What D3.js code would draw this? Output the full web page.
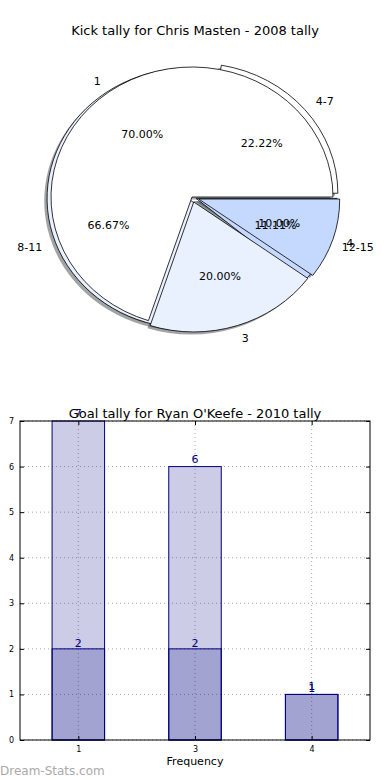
<!DOCTYPE html>
<html>
<head>
<meta charset="utf-8">
<script src="https://cdn.jsdelivr.net/npm/d3@7"></script>
<style>
  body { margin: 0; background: #fff; }
  svg { display: block; font-family: "DejaVu Sans", sans-serif; }
</style>
</head>
<body>
<div id="chart"></div>
<script>
// Kick tally pie: two pies drawn on top of each other
const kickLabelsA = ['1', '3', '4'];
const kickValuesA = [7, 2, 1];
const kickLabelsB = ['4-7', '8-11', '12-15'];
const kickValuesB = [2, 6, 1];

// Goal tally bars: two overlaid series
const goalCategories = ['1', '3', '4'];
const goalSeriesA = [7, 6, 1];
const goalSeriesB = [2, 2, 1];
const goalTicks = [0, 1, 2, 3, 4, 5, 6, 7];

const W = 390, H = 780;
const svg = d3.select('#chart').append('svg')
  .attr('width', W).attr('height', H);

// ---------- pie ----------
const pieColors = ['#ffffff', '#e9f0fe', '#c5d9fe'];
const explodeA = [0, 0.04, 0.05];
const explodeB = [0.045, 0.03, 0.03];
const cx = 192, cy = 197, rx = 141, ry = 130;

svg.append('text')
  .attr('x', W / 2).attr('y', 35)
  .attr('text-anchor', 'middle')
  .style('font-size', '13px')
  .text('Kick tally for Chris Masten - 2008 tally');

// matplotlib starts at 3 o'clock and goes counter-clockwise
const pie = d3.pie().sort(null)
  .startAngle(Math.PI / 2)
  .endAngle(Math.PI / 2 - 2 * Math.PI);
const arc = d3.arc().innerRadius(0).outerRadius(1);

function layout(labels, values, explode) {
  return pie(values).map((d, i) => {
    const mid = (d.startAngle + d.endAngle) / 2;
    const ux = Math.sin(mid), uy = -Math.cos(mid);
    return {
      d, i,
      label: labels[i],
      pct: d3.format('.2f')(100 * d.value / d3.sum(values)) + '%',
      ux, uy,
      ox: cx + explode[i] * rx * ux,
      oy: cy + explode[i] * ry * uy
    };
  });
}

const slicesA = layout(kickLabelsA, kickValuesA, explodeA);
const slicesB = layout(kickLabelsB, kickValuesB, explodeB);
const pieG = svg.append('g');

function shadowColor(c) {
  const rgb = d3.rgb(c);
  return d3.rgb(rgb.r * 0.3, rgb.g * 0.3, rgb.b * 0.3).toString();
}

// shadows first, behind all wedges
[slicesB, slicesA].forEach(slices => {
  pieG.selectAll(null).data(slices).enter().append('path')
    .attr('transform', s => `translate(${s.ox - 0.02 * rx},${s.oy + 0.02 * ry}) scale(${rx},${ry})`)
    .attr('d', s => arc(s.d))
    .attr('fill', s => shadowColor(pieColors[s.i]))
    .attr('fill-opacity', 0.5);
});

[slicesB, slicesA].forEach(slices => {
  pieG.selectAll(null).data(slices).enter().append('path')
    .attr('transform', s => `translate(${s.ox},${s.oy}) scale(${rx},${ry})`)
    .attr('d', s => arc(s.d))
    .attr('fill', s => pieColors[s.i])
    .attr('stroke', '#000')
    .attr('stroke-width', 0.8)
    .attr('vector-effect', 'non-scaling-stroke');
});

[slicesB, slicesA].forEach(slices => {
  pieG.selectAll(null).data(slices).enter().append('text')
    .attr('x', s => s.ox + 1.1 * rx * s.ux)
    .attr('y', s => s.oy + 1.1 * ry * s.uy)
    .attr('dy', '0.35em')
    .attr('text-anchor', s => s.ux > 0 ? 'start' : 'end')
    .style('font-size', '11px')
    .text(s => s.label);

  pieG.selectAll(null).data(slices).enter().append('text')
    .attr('x', s => s.ox + 0.6 * rx * s.ux)
    .attr('y', s => s.oy + 0.6 * ry * s.uy)
    .attr('dy', '0.35em')
    .attr('text-anchor', 'middle')
    .style('font-size', '11px')
    .text(s => s.pct);
});

// ---------- bar chart ----------
const plotL = 20, plotR = 370, plotT = 421, plotB = 740;
const x = d3.scalePoint().domain(goalCategories).range([plotL, plotR]).padding(0.5);
const y = d3.scaleLinear().domain([0, 7]).range([plotB, plotT]);
const barW = x.step() * 0.45;
const navy = '#000080';

const barG = svg.append('g');

// dotted grid
barG.selectAll(null).data(goalTicks).enter().append('line')
  .attr('x1', plotL).attr('x2', plotR)
  .attr('y1', d => y(d)).attr('y2', d => y(d))
  .attr('stroke', '#aaa').attr('stroke-width', 1)
  .attr('stroke-dasharray', '1,3');
barG.selectAll(null).data(goalCategories).enter().append('line')
  .attr('x1', d => x(d)).attr('x2', d => x(d))
  .attr('y1', plotT).attr('y2', plotB)
  .attr('stroke', '#aaa').attr('stroke-width', 1)
  .attr('stroke-dasharray', '1,3');

[goalSeriesA, goalSeriesB].forEach((series, k) => {
  barG.selectAll(null).data(series).enter().append('rect')
    .attr('x', (d, i) => x(goalCategories[i]) - barW / 2)
    .attr('y', d => y(d))
    .attr('width', barW)
    .attr('height', d => plotB - y(d))
    .attr('fill', navy).attr('fill-opacity', 0.2)
    .attr('stroke', navy).attr('stroke-width', 1);

  barG.selectAll(null).data(series).enter().append('text')
    .attr('x', (d, i) => x(goalCategories[i]))
    .attr('y', d => y(d) - 4 + k * 2)
    .attr('text-anchor', 'middle')
    .attr('fill', navy)
    .style('font-size', '11px')
    .text(d => d);
});

// frame
barG.append('rect')
  .attr('x', plotL).attr('y', plotT)
  .attr('width', plotR - plotL).attr('height', plotB - plotT)
  .attr('fill', 'none').attr('stroke', '#000').attr('stroke-width', 1);

// ticks inside, on all four sides
barG.append('g').attr('transform', `translate(${plotL},0)`)
  .call(d3.axisLeft(y).tickValues(goalTicks).tickFormat(d3.format('d')).tickSize(-4).tickPadding(6))
  .call(g => g.select('.domain').remove())
  .call(g => g.selectAll('text').style('font-size', '8px').attr('font-family', 'DejaVu Sans'));
barG.append('g').attr('transform', `translate(${plotR},0)`)
  .call(d3.axisRight(y).tickValues(goalTicks).tickSize(-4).tickFormat(''))
  .call(g => g.select('.domain').remove());

barG.append('g').attr('transform', `translate(0,${plotB})`)
  .call(d3.axisBottom(x).tickSize(-4).tickPadding(6))
  .call(g => g.select('.domain').remove())
  .call(g => g.selectAll('text').style('font-size', '8px').attr('font-family', 'DejaVu Sans'));
barG.append('g').attr('transform', `translate(0,${plotT})`)
  .call(d3.axisTop(x).tickSize(-4).tickFormat(''))
  .call(g => g.select('.domain').remove());

svg.append('text')
  .attr('x', W / 2).attr('y', 418)
  .attr('text-anchor', 'middle')
  .style('font-size', '13px')
  .text("Goal tally for Ryan O'Keefe - 2010 tally");

svg.append('text')
  .attr('x', (plotL + plotR) / 2).attr('y', 765)
  .attr('text-anchor', 'middle')
  .style('font-size', '11px')
  .text('Frequency');

svg.append('text')
  .attr('x', 0).attr('y', 775)
  .attr('fill', '#aaa')
  .style('font-size', '12px')
  .text('Dream-Stats.com');
</script>
</body>
</html>
